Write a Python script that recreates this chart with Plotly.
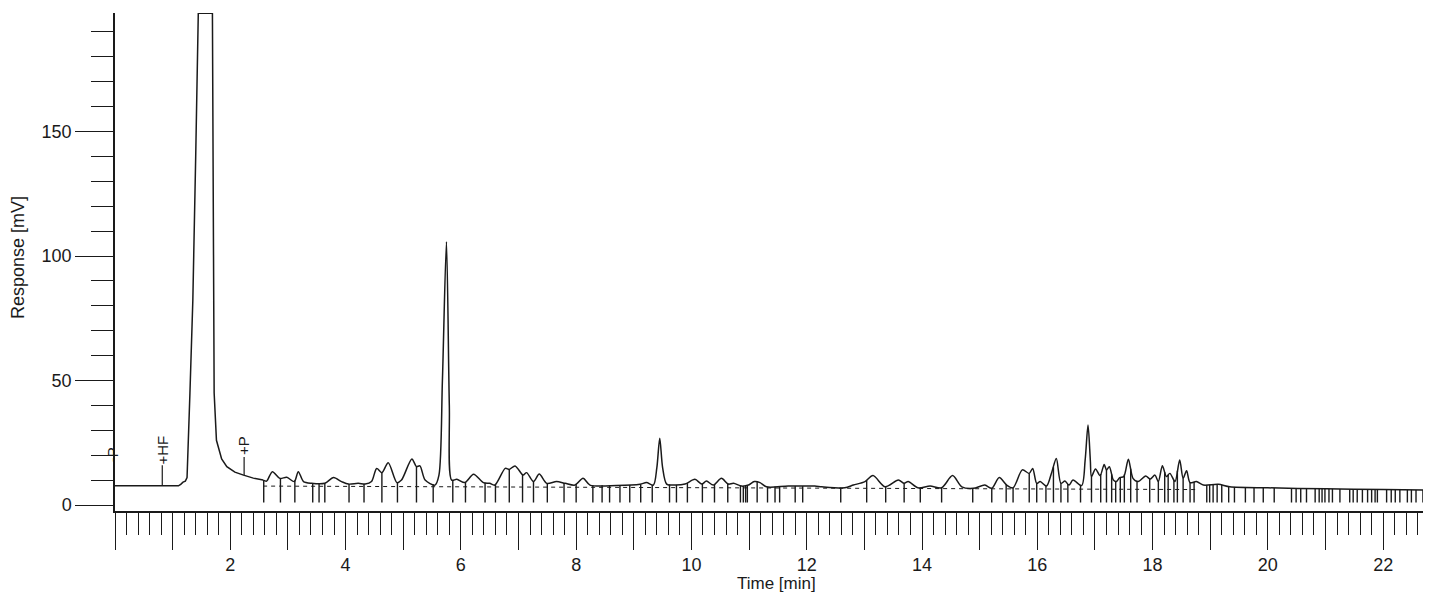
import numpy as np
import plotly.graph_objects as go

# ---- data ----
time_min = [0.00, 0.80, 1.10, 1.14, 1.18, 1.22, 1.25, 1.30, 1.35, 1.40, 1.445, 1.69, 1.705, 1.72, 1.76, 1.85,
            1.94, 2.08, 2.23, 2.40, 2.57, 2.63, 2.73, 2.86, 2.98, 3.11, 3.18, 3.27, 3.41, 3.64, 3.79, 3.93,
            4.05, 4.22, 4.34, 4.45, 4.54, 4.63, 4.74, 4.89, 4.97, 5.15, 5.23, 5.29, 5.38, 5.55, 5.62, 5.68,
            5.75, 5.80, 5.84, 5.93, 6.07, 6.22, 6.39, 6.50, 6.59, 6.77, 6.84, 6.94, 7.08, 7.14, 7.26, 7.36,
            7.49, 7.66, 7.81, 7.98, 8.12, 8.24, 8.70, 9.11, 9.22, 9.34, 9.40, 9.45, 9.50, 9.57, 9.71, 9.89,
            10.06, 10.18, 10.26, 10.38, 10.52, 10.64, 10.73, 10.87, 10.99, 11.09, 11.19, 11.30, 11.68, 12.14,
            12.26, 12.66, 12.81, 13.01, 13.15, 13.36, 13.59, 13.69, 13.76, 13.93, 14.14, 14.34, 14.53, 14.69,
            14.89, 15.09, 15.21, 15.34, 15.47, 15.58, 15.74, 15.86, 15.92, 15.99, 16.05, 16.16, 16.25, 16.33,
            16.41, 16.48, 16.55, 16.62, 16.77, 16.83, 16.88, 16.92, 16.94, 17.01, 17.09, 17.16, 17.20, 17.25,
            17.32, 17.37, 17.43, 17.50, 17.58, 17.66, 17.75, 17.88, 17.96, 18.04, 18.10, 18.17, 18.24, 18.30,
            18.39, 18.47, 18.53, 18.59, 18.65, 18.76, 18.88, 19.14, 19.34, 20.0, 21.0, 22.0, 22.83]
response_mv = [7.7, 7.7, 7.7, 8.3, 9.2, 9.6, 11.0, 45.0, 82.0, 140.0, 197.5, 197.5, 82.0, 45.0, 26.0, 18.5,
               15.4, 13.2, 12.0, 10.8, 10.0, 9.6, 13.4, 10.7, 11.1, 9.4, 13.4, 9.4, 8.7, 8.7, 11.0, 9.4,
               8.4, 8.7, 8.4, 9.4, 14.7, 13.0, 17.0, 9.0, 10.0, 18.5, 15.4, 15.7, 10.0, 8.0, 12.0, 50.0,
               105.7, 40.0, 10.0, 10.3, 9.0, 12.3, 9.0, 8.7, 8.0, 14.7, 14.3, 15.7, 12.0, 13.0, 9.4, 12.4,
               8.7, 9.4, 8.7, 8.0, 10.7, 8.0, 7.8, 8.3, 9.0, 8.0, 15.0, 26.8, 15.0, 8.4, 8.0, 8.4,
               10.3, 8.4, 9.6, 8.0, 10.7, 8.4, 8.7, 7.6, 8.0, 9.4, 9.0, 7.3, 7.6, 7.6,
               7.3, 6.9, 8.0, 9.4, 11.8, 7.3, 10.0, 8.7, 9.4, 6.9, 7.6, 6.9, 11.8, 7.3,
               6.7, 8.0, 6.7, 11.0, 8.0, 6.9, 14.1, 12.7, 14.7, 8.7, 9.4, 7.6, 13.1, 18.7,
               8.7, 9.6, 8.0, 10.0, 7.8, 18.0, 32.1, 18.0, 11.4, 14.5, 11.8, 16.3, 14.1, 15.4,
               10.0, 9.4, 11.0, 11.4, 18.4, 10.7, 9.4, 11.6, 10.4, 12.0, 9.4, 15.8, 11.4, 12.7,
               9.4, 18.1, 10.7, 13.8, 9.0, 9.4, 8.0, 8.3, 7.3, 6.9, 6.5, 6.2, 6.0]

baseline_time = [2.57, 18.80]
baseline_mv = [7.6, 6.2]

peak_marks = [2.58, 2.87, 3.12, 3.43, 3.54, 3.64, 4.06, 4.32, 4.63, 4.90, 5.23, 5.52, 5.86, 6.08, 6.42, 6.60,
              6.84, 7.07, 7.26, 7.50, 7.79, 8.00, 8.29, 8.45, 8.58, 8.76, 8.93, 9.12, 9.32, 9.62, 9.74, 9.93,
              10.19, 10.40, 10.63, 10.85, 10.90, 10.94, 10.97, 11.14, 11.32, 11.45, 11.53, 11.80, 11.93, 12.59,
              13.04, 13.37, 13.69, 13.97, 14.34, 14.88, 15.21, 15.46, 15.58, 15.86, 15.99, 16.15, 16.28, 16.41,
              16.53, 16.75, 16.94, 17.10, 17.20, 17.29, 17.36, 17.44, 17.51, 17.62, 17.73, 17.95, 18.10, 18.21,
              18.27, 18.37, 18.43, 18.53, 18.65, 18.72, 18.94, 18.99, 19.05, 19.12, 19.20, 19.32, 19.42, 19.61,
              19.76, 19.92, 20.11, 20.41, 20.49, 20.57, 20.67, 20.82, 20.89, 20.94, 20.99, 21.06, 21.12, 21.25,
              21.42, 21.48, 21.55, 21.64, 21.73, 21.80, 21.86, 21.90, 22.06, 22.14, 22.21, 22.29, 22.42, 22.49,
              22.57, 22.69]
mark_bottom = 1.0

event_labels = ["-P", "+HF", "+P"]
event_time = [0.0, 0.82, 2.24]
event_text_mv = [20.0, 22.0, 23.7]
event_line_top = [None, 16.0, 19.3]

x_tick_vals = list(range(0, 23))
x_tick_text = [str(v) if (v % 2 == 0 and v > 0) else "" for v in x_tick_vals]
y_tick_vals = [0, 50, 100, 150]

INK = "#1a1a1a"
FONT = "Liberation Sans, Arial, sans-serif"

fig = go.Figure()

# peak event marks (from the trace down)
tops = np.interp(peak_marks, time_min, response_mv)
mx, my = [], []
for t, top in zip(peak_marks, tops):
    mx += [t, t, None]
    my += [float(top), mark_bottom, None]
fig.add_trace(go.Scatter(x=mx, y=my, mode="lines", line=dict(color=INK, width=1.4),
                         hoverinfo="skip", showlegend=False))

# dashed baseline
fig.add_trace(go.Scatter(x=baseline_time, y=baseline_mv, mode="lines",
                         line=dict(color=INK, width=1, dash="4px,4px"), showlegend=False))

# event label lines
ex, ey = [], []
for t, top in zip(event_time, event_line_top):
    if top is None:
        continue
    base = float(np.interp(t, time_min, response_mv))
    ex += [t, t, None]
    ey += [top, base, None]
fig.add_trace(go.Scatter(x=ex, y=ey, mode="lines", line=dict(color=INK, width=1.2), showlegend=False))

# chromatogram trace: solvent front drawn straight, remainder smoothed
split = time_min.index(2.57)
fig.add_trace(go.Scatter(x=time_min[:split + 1], y=response_mv[:split + 1], mode="lines",
                         line=dict(color=INK, width=1.5), showlegend=False))
fig.add_trace(go.Scatter(x=time_min[split:], y=response_mv[split:], mode="lines",
                         line=dict(color=INK, width=1.5, shape="spline", smoothing=0.8),
                         showlegend=False))

for lab, t, v in zip(event_labels, event_time, event_text_mv):
    fig.add_annotation(x=t, y=v, text=lab, showarrow=False, textangle=-90,
                       xshift=-3 if t == 0 else 0,
                       font=dict(family=FONT, size=15, color=INK))

fig.add_annotation(xref="paper", yref="paper", x=-0.0737, y=0.508, text="Response [mV]",
                   showarrow=False, textangle=-90, xanchor="center", yanchor="middle",
                   font=dict(family=FONT, size=18, color=INK))
fig.add_annotation(xref="paper", yref="paper", x=0.503, y=-0.1446, text="Time [min]",
                   showarrow=False, xanchor="center", yanchor="middle",
                   font=dict(family=FONT, size=17, color=INK))

# page body has an 8 px default margin: figure sized/offset so the plot area lands at
# x 115..1431, y 13..511 in the window
fig.update_layout(
    width=1423, height=586,
    margin=dict(l=107, r=0, t=5, b=83, autoexpand=False),
    paper_bgcolor="white", plot_bgcolor="white",
    font=dict(family=FONT, size=18, color=INK),
    xaxis=dict(range=[0, 22.83], showgrid=False, zeroline=False, automargin=False,
               showline=True, linecolor=INK, linewidth=1.5,
               tickmode="array", tickvals=x_tick_vals, ticktext=x_tick_text,
               ticks="outside", ticklen=37, tickwidth=1.3, tickcolor=INK,
               minor=dict(tickmode="linear", tick0=0, dtick=0.2, ticks="outside",
                          ticklen=22, tickwidth=1.3, tickcolor=INK, showgrid=False)),
    yaxis=dict(range=[-2.41, 197.6], showgrid=False, zeroline=False, automargin=False,
               showline=True, linecolor=INK, linewidth=1.5,
               tickmode="array", tickvals=y_tick_vals,
               ticks="outside", ticklen=38, tickwidth=1.3, tickcolor=INK,
               minor=dict(tickmode="linear", tick0=0, dtick=10, ticks="outside",
                          ticklen=22, tickwidth=1.3, tickcolor=INK, showgrid=False)),
)

fig.write_html("out.html")
